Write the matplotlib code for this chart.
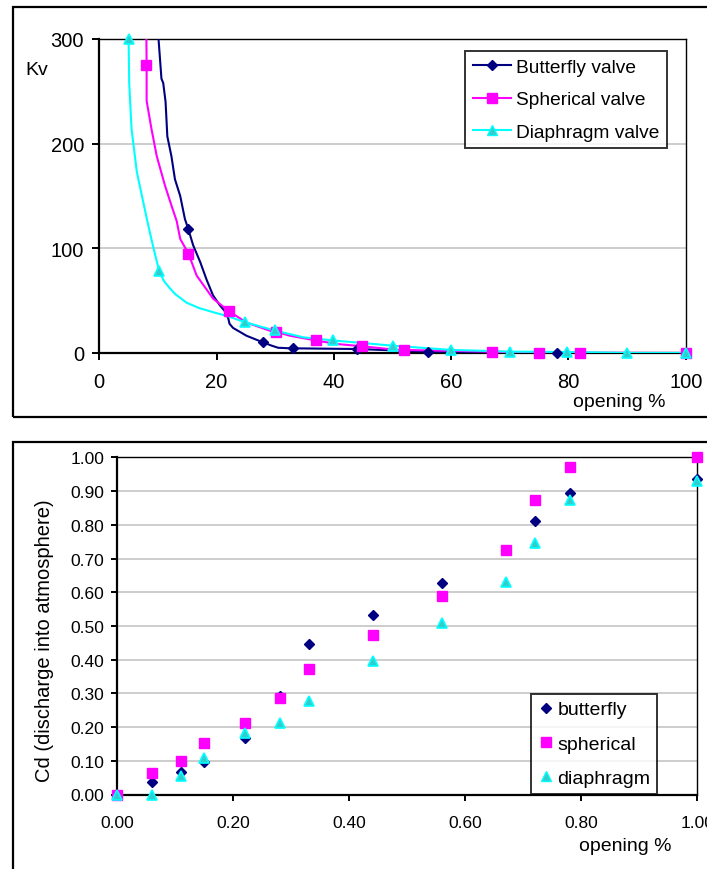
import numpy as np
import matplotlib
matplotlib.use("Agg")
import matplotlib.pyplot as plt
from matplotlib.patches import Rectangle
from matplotlib.lines import Line2D

plt.rcParams['font.family'] = ['Liberation Sans', 'DejaVu Sans']

# ---------------- data: Kv vs opening % ----------------
bf_line_x = [9.9, 10.1, 10.6, 10.9, 11.3, 11.6, 12.3, 12.9, 13.8, 14.6, 15.2, 16.0, 17.2, 18.3, 19.4,
             20.5, 21.4, 22.0, 22.2, 22.8, 25.1, 27.9, 29.4, 30.5, 32.5, 44.0, 56.0, 72.0, 78.0, 100.0]
bf_line_y = [320, 300, 262, 258, 240, 207, 188, 166, 150, 128, 118, 103, 87, 70, 55,
             46, 40, 33, 28, 24, 16.5, 10.2, 7, 5, 4.5, 3.8, 1.3, 0.5, 0, 0]
bf_mark_x = [15.2, 28.0, 33.0, 44.0, 56.0, 78.0, 100.0]
bf_mark_y = [118, 10.2, 4.5, 3.8, 1.3, 0, 0]

sp_line_x = [8.0, 8.07, 8.07, 8.9, 9.8, 11.2, 12.3, 13.2, 13.8, 15.2, 16.6, 19.4, 22.1, 25.1,
             29.1, 30.1, 32.5, 36.9, 40.5, 44.9, 50.7, 52.0, 67.0, 75.0, 82.0, 100.0]
sp_line_y = [320, 275, 241, 214, 188, 160, 141, 126, 109, 95, 74, 52, 40, 29,
             21.3, 20.3, 16.5, 12, 8.6, 6.4, 3.0, 2.9, 1.3, 0.3, 0.2, 0]
sp_mark_x = [8.0, 15.2, 22.1, 30.1, 36.9, 44.8, 52.0, 67.0, 75.0, 82.0, 100.0]
sp_mark_y = [275, 95, 40, 20.3, 12, 6.8, 2.9, 1.3, 0.3, 0.2, 0]

di_line_x = [5.0, 5.1, 5.5, 6.4, 7.5, 8.35, 9.0, 9.6, 10.2, 11.0, 12.0, 13.0, 14.9, 17.0, 19.4,
             22.0, 24.8, 29.9, 34.8, 39.9, 50.0, 59.9, 70.0, 79.8, 90.0, 100.0]
di_line_y = [300, 258, 214, 173, 144, 122, 106, 92, 78.6, 69, 62, 56, 48, 43, 39,
             35, 29.5, 21.5, 15, 12, 7, 3, 1.3, 1, 0, 0]
di_mark_x = [5.0, 10.2, 24.8, 29.9, 39.9, 50.0, 59.9, 70.0, 79.8, 90.0, 100.0]
di_mark_y = [300, 78.6, 29.5, 21.5, 12, 7, 3, 1.3, 1, 0, 0]

kv_labels = ['Butterfly valve', 'Spherical valve', 'Diaphragm valve']

# ---------------- data: Cd vs opening ----------------
cd_x = [0.0, 0.06, 0.11, 0.15, 0.22, 0.28, 0.33, 0.44, 0.56, 0.67, 0.72, 0.78, 1.0]
cd_butterfly = [0.0, 0.036, 0.066, 0.095, 0.168, 0.292, 0.447, 0.534, 0.628, np.nan, 0.813, 0.895, 0.935]
cd_spherical = [0.0, 0.064, 0.099, 0.153, 0.213, 0.287, 0.373, 0.473, 0.590, 0.725, 0.873, 0.971, 1.0]
cd_diaphragm = [0.0, 0.0, 0.056, 0.109, 0.183, 0.213, 0.277, 0.396, 0.510, 0.630, 0.745, 0.875, 0.930]
cd_labels = ['butterfly', 'spherical', 'diaphragm']

NAVY = '#000080'
MAG = '#FF00FF'
CYAN = '#00FFFF'
TEAL = '#33CCCC'
GRID = '#C0C0C0'

W, H = 707, 870
fig = plt.figure(figsize=(W / 100, H / 100), dpi=100)

def fx(px):
    return px / W

def fy(py):
    return 1 - py / H

# outer frames
fig.add_artist(Rectangle((fx(13), fy(418)), 1.2, (418 - 8) / H, transform=fig.transFigure,
                         fill=False, edgecolor='black', linewidth=1.6))
fig.add_artist(Rectangle((fx(13), -0.05), 1.2, fy(443) + 0.05, transform=fig.transFigure,
                         fill=False, edgecolor='black', linewidth=1.6))

# ---------------- top chart ----------------
ax1 = fig.add_axes([fx(99.3), fy(354), fx(685.7) - fx(99.3), fy(40) - fy(354)])
ax1.set_xlim(0, 100)
ax1.set_ylim(0, 300)
ax1.set_xticks([0, 20, 40, 60, 80, 100])
ax1.set_yticks([0, 100, 200, 300])
ax1.yaxis.grid(True, color=GRID, linewidth=1.1)
ax1.set_axisbelow(True)
for s in ['left', 'bottom']:
    ax1.spines[s].set_linewidth(1.6)
for s in ['top', 'right']:
    ax1.spines[s].set_linewidth(1.0)
ax1.tick_params(direction='out', length=5, width=1.4, labelsize=14.5, pad=9)
ax1.tick_params(axis='y', pad=6)

ax1.plot(bf_line_x, bf_line_y, color=NAVY, lw=1.5, zorder=3)
ax1.plot(bf_mark_x, bf_mark_y, ls='none', marker='D', ms=5.6, color=NAVY, clip_on=False, zorder=4)
ax1.plot(sp_line_x, sp_line_y, color=MAG, lw=1.5, zorder=3)
ax1.plot(sp_mark_x, sp_mark_y, ls='none', marker='s', ms=7.5, color=MAG, clip_on=False, zorder=4)
ax1.plot(di_line_x, di_line_y, color=CYAN, lw=1.5, zorder=3)
ax1.plot(di_mark_x, di_mark_y, ls='none', marker='^', ms=7.5, markerfacecolor=TEAL,
         markeredgecolor=CYAN, markeredgewidth=1.2, clip_on=False, zorder=4)

h1 = [Line2D([], [], color=NAVY, lw=1.5, marker='D', ms=5.6),
      Line2D([], [], color=MAG, lw=1.5, marker='s', ms=7.5),
      Line2D([], [], color=CYAN, lw=1.5, marker='^', ms=7.5, markerfacecolor=TEAL,
             markeredgecolor=CYAN)]
leg1 = ax1.legend(h1, kv_labels, loc='upper left',
                  bbox_to_anchor=(fx(465), fy(52)), bbox_transform=fig.transFigure,
                  fontsize=13.8, frameon=True, fancybox=False, edgecolor='black',
                  borderpad=0.4, labelspacing=0.78, handlelength=2.0, handletextpad=0.25,
                  borderaxespad=0)
leg1.get_frame().set_linewidth(1.4)

fig.text(fx(36.7), fy(70.7), 'Kv', fontsize=14, ha='center', va='center')
fig.text(fx(619), fy(403), 'opening %', fontsize=14, ha='center', va='center')

# ---------------- bottom chart ----------------
ax2 = fig.add_axes([fx(117.3), fy(795.5), fx(697.3) - fx(117.3), fy(458.5) - fy(795.5)])
ax2.set_xlim(0, 1.0)
ax2.set_ylim(0, 1.0)
ax2.set_xticks(np.arange(0, 1.01, 0.2))
ax2.set_yticks(np.arange(0, 1.01, 0.1))
ax2.xaxis.set_major_formatter(matplotlib.ticker.FormatStrFormatter('%.2f'))
ax2.yaxis.set_major_formatter(matplotlib.ticker.FormatStrFormatter('%.2f'))
ax2.yaxis.grid(True, color=GRID, linewidth=1.1)
ax2.set_axisbelow(True)
for s in ['left', 'bottom']:
    ax2.spines[s].set_linewidth(1.6)
for s in ['top', 'right']:
    ax2.spines[s].set_linewidth(1.0)
ax2.tick_params(direction='out', length=4.5, width=1.4, labelsize=12.5)
ax2.tick_params(axis='x', pad=10)
ax2.tick_params(axis='y', pad=5)

ax2.plot(cd_x, cd_butterfly, ls='none', marker='D', ms=5.4, color=NAVY, clip_on=False, zorder=3)
ax2.plot(cd_x, cd_spherical, ls='none', marker='s', ms=7.3, color=MAG, clip_on=False, zorder=4)
ax2.plot(cd_x, cd_diaphragm, ls='none', marker='^', ms=7.5, markerfacecolor=TEAL,
         markeredgecolor=CYAN, markeredgewidth=1.2, clip_on=False, zorder=5)

h2 = [Line2D([], [], ls='none', color=NAVY, marker='D', ms=5.0),
      Line2D([], [], ls='none', color=MAG, marker='s', ms=6.8),
      Line2D([], [], ls='none', marker='^', ms=7.0, markerfacecolor=TEAL, markeredgecolor=CYAN)]
leg2 = ax2.legend(h2, cd_labels, loc='lower left',
                  bbox_to_anchor=(fx(531), fy(794.5)), bbox_transform=fig.transFigure,
                  fontsize=14, frameon=True, fancybox=False, edgecolor='black',
                  borderpad=0.35, labelspacing=0.85, handlelength=0.8, handletextpad=0.2,
                  borderaxespad=0)
leg2.get_frame().set_linewidth(1.4)

fig.text(fx(45), fy(641), 'Cd (discharge into atmosphere)', fontsize=14.5, rotation=90,
         ha='center', va='center')
fig.text(fx(625), fy(846.7), 'opening %', fontsize=14, ha='center', va='center')

fig.savefig('out.png', dpi=100)
